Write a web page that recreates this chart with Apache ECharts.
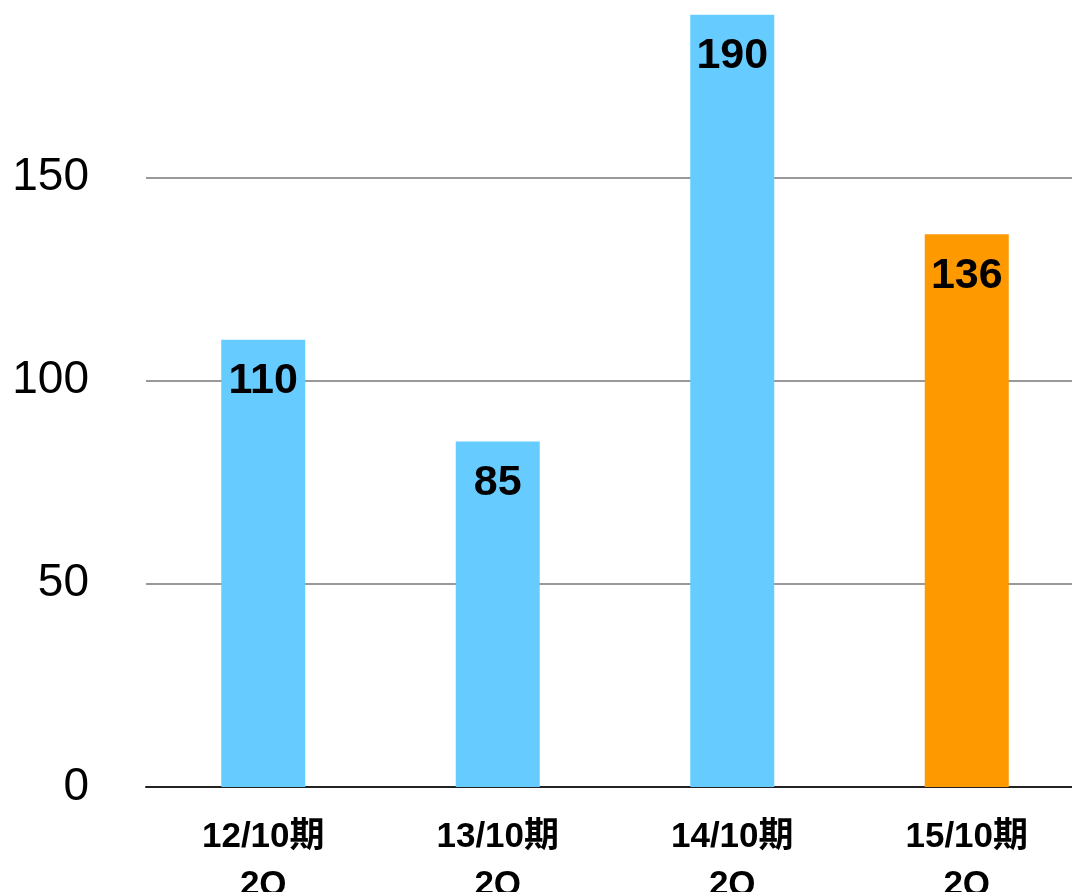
<!DOCTYPE html>
<html>
<head>
<meta charset="utf-8">
<script src="https://cdn.jsdelivr.net/npm/echarts@6/dist/echarts.min.js"></script>
<style>
html,body{margin:0;padding:0;background:#fff;}
#chart{width:1072px;height:892px;}
</style>
</head>
<body>
<div id="chart"></div>
<script>
const categories = ['12/10期\n2Q', '13/10期\n2Q', '14/10期\n2Q', '15/10期\n2Q'];
const values = [110, 85, 190, 136];
const barColors = ['#66CCFF', '#66CCFF', '#66CCFF', '#FF9900'];
const yTicks = [0, 50, 100, 150, 200];

const FONT = '"Liberation Sans", Arial, "Noto Sans CJK JP", sans-serif';
const chart = echarts.init(document.getElementById('chart'));
chart.setOption({
  animation: false,
  backgroundColor: '#fff',
  grid: { left: 146, right: -12, top: -26, bottom: 105, containLabel: false, outerBoundsMode: 'none' },
  xAxis: {
    type: 'category',
    data: categories,
    axisLine: { show: true, lineStyle: { color: '#222', width: 2 } },
    axisTick: { show: false },
    axisLabel: {
      color: '#000', fontFamily: FONT, fontWeight: 'bold', fontSize: 35,
      lineHeight: 48, margin: 26
    }
  },
  yAxis: {
    type: 'value',
    min: yTicks[0], max: yTicks[yTicks.length - 1], interval: 50,
    axisLine: { show: false },
    axisTick: { show: false },
    splitLine: { lineStyle: { color: '#999', width: 2 } },
    axisLabel: { color: '#000', fontFamily: FONT, fontSize: 46, margin: 57 }
  },
  series: [{
    type: 'bar',
    barWidth: 84,
    data: values.map((v, i) => ({ value: v, itemStyle: { color: barColors[i] } })),
    label: {
      show: true, position: 'insideTop', distance: 20,
      color: '#000', fontFamily: FONT, fontWeight: 'bold', fontSize: 43, lineHeight: 43
    }
  }]
});
</script>
</body>
</html>
